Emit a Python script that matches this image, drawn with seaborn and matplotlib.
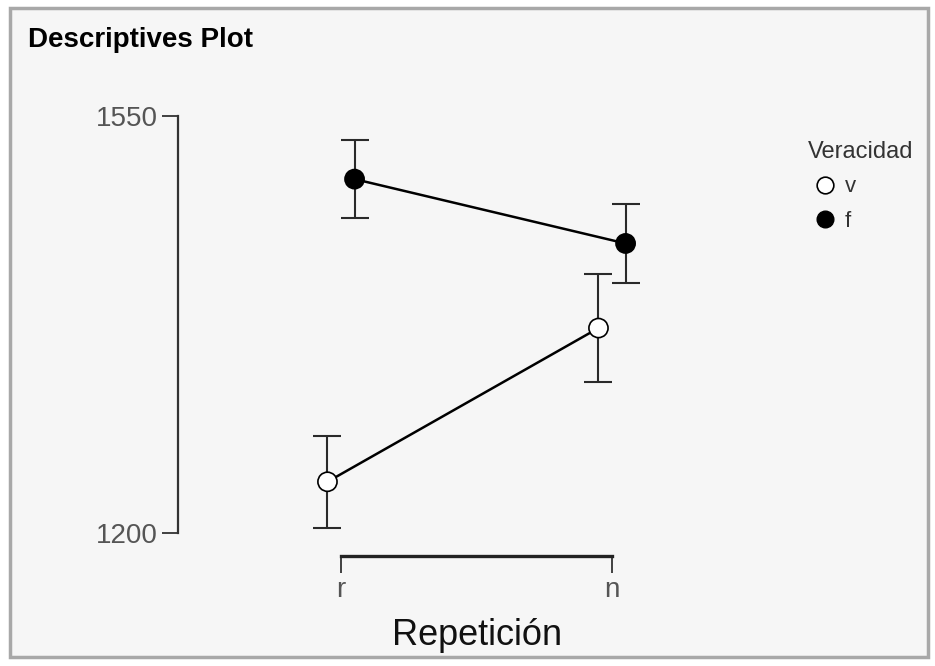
import matplotlib
matplotlib.use('Agg')
import matplotlib.pyplot as plt
from matplotlib.lines import Line2D
from matplotlib.patches import Rectangle
import numpy as np
import pandas as pd
import seaborn as sns

# data
repeticion = ['r', 'n']
veracidad = ['v', 'f']
media_v = [1243, 1372]
media_f = [1497, 1443]
error_v = [38.5, 45.5]
error_f = [33, 33.5]

sns.set_style('white')
plt.rcParams['font.family'] = ['Liberation Sans', 'DejaVu Sans']

#tabel bouwen
rows = []
for i, rep in enumerate(repeticion):
    rows.append({'Repeticion': rep, 'Veracidad': 'v', 'pos': i - 0.05, 'media': media_v[i], 'error': error_v[i]})
    rows.append({'Repeticion': rep, 'Veracidad': 'f', 'pos': i + 0.05, 'media': media_f[i], 'error': error_f[i]})
df = pd.DataFrame(rows)

fig = plt.figure(figsize=(9.35, 6.66), dpi=100)
fig.patch.set_facecolor('white')

# grey panel with border, like the screenshot
W, H = 935, 666
panel = Rectangle((10 / W, 1 - 657 / H), 918 / W, 649 / H, transform=fig.transFigure,
                  facecolor='#f6f6f6', edgecolor='#a8a8a8', linewidth=2.5, zorder=-10)
fig.patches.append(panel)

ax = fig.add_axes([178 / W, 1 - 556 / H, 582 / W, 456 / H])
ax.set_facecolor('none')

#lijnen
sns.lineplot(data=df, x='pos', y='media', hue='Veracidad', palette={'v': 'black', 'f': 'black'},
             linewidth=1.8, legend=False, ax=ax, zorder=2)

#foutbalken
for v in veracidad:
    sub = df[df['Veracidad'] == v]
    ax.errorbar(sub['pos'], sub['media'], yerr=sub['error'], fmt='none', ecolor='#2a2a2a',
                elinewidth=1.5, capsize=10, capthick=1.5, zorder=1)

#punten
sns.scatterplot(data=df, x='pos', y='media', hue='Veracidad', palette={'v': 'white', 'f': 'black'},
                edgecolor='black', linewidth=1.2, s=190, legend=False, ax=ax, zorder=4)

ax.set_xlim(-0.6015, 1.546)
ax.set_ylim(1180.7, 1563.4)
ax.set_xticks([0, 1])
ax.set_xticklabels(repeticion)
ax.set_yticks([1200, 1550])
ax.set_yticklabels(['1200', '1550'])

sns.despine(ax=ax)
ax.spines['left'].set_bounds(1200, 1550)
ax.spines['bottom'].set_bounds(0, 1)
ax.spines['left'].set_linewidth(1.6)
ax.spines['bottom'].set_linewidth(2.4)
ax.spines['left'].set_color('#333333')
ax.spines['bottom'].set_color('#222222')

ax.tick_params(axis='y', left=True, length=11.5, width=1.3, color='#333333', pad=3, labelsize=20, labelcolor='#555555')
ax.tick_params(axis='x', bottom=True, length=12, width=1.3, color='#333333', pad=3, labelsize=20, labelcolor='#555555')

ax.set_xlabel('Repetición', fontsize=26, color='#111111')
ax.set_ylabel('')
ax.xaxis.set_label_coords(0.513, -0.137)

fig.text(28 / W, 1 - 47 / H, 'Descriptives Plot', fontsize=20, fontweight='bold', va='baseline', ha='left',
         color='black')

#legenda
handles = [Line2D([], [], linestyle='none', marker='o', markersize=12, markerfacecolor='white',
                  markeredgecolor='black', markeredgewidth=1.2),
           Line2D([], [], linestyle='none', marker='o', markersize=12, markerfacecolor='black',
                  markeredgecolor='black')]
leg = fig.legend(handles, veracidad, title='Veracidad', loc='upper left',
                 bbox_to_anchor=(792 / W, 1 - 125 / H), frameon=False, fontsize=16,
                 title_fontsize=17, alignment='left', handlelength=1.53, handletextpad=0.15,
                 labelspacing=0.62, borderpad=0.2)
for t in leg.get_texts():
    t.set_color('#333333')
leg.get_title().set_color('#333333')

fig.savefig('out.png', dpi=100)
